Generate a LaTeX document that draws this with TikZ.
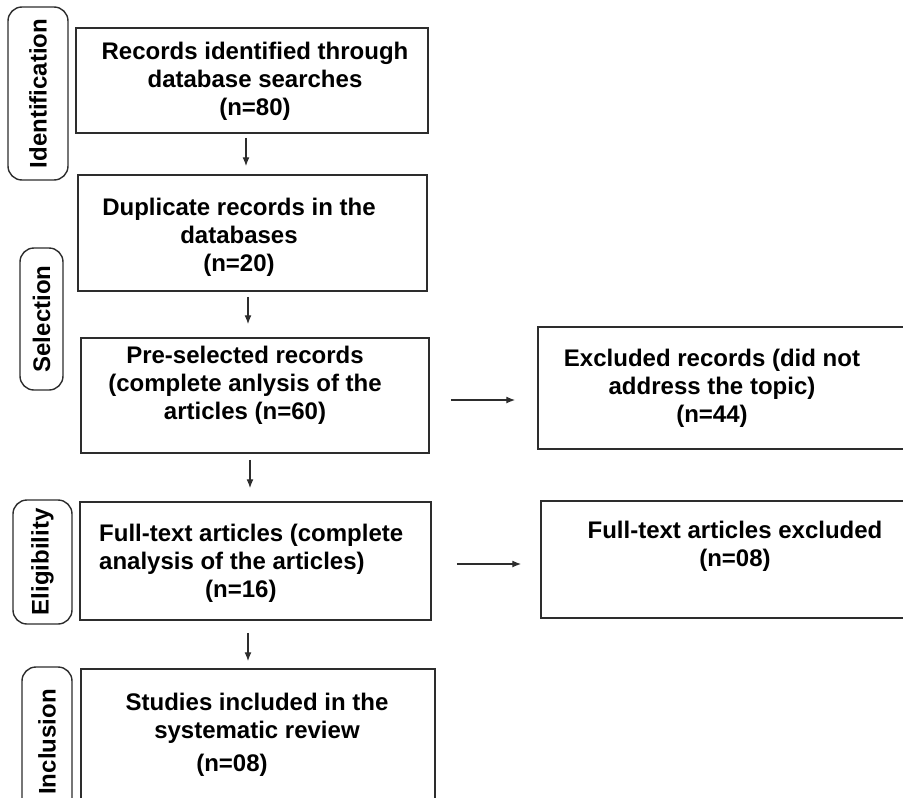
\documentclass[tikz,border=0pt]{standalone}
\usepackage{fontspec}
\setmainfont{Liberation Sans}
\usetikzlibrary{arrows.meta}
\definecolor{flowline}{RGB}{45,45,45}

\tikzset{
  flowbox/.style={draw=flowline,line width=1.5pt,inner sep=0pt},
  flowtext/.style={align=center,inner sep=0pt,font=\bfseries\fontsize{24}{28}\selectfont},
  sidelabel/.style={draw=flowline,line width=1.4pt,rounded corners=14pt,rotate=90,inner sep=0pt,font=\bfseries\fontsize{24}{28}\selectfont},
  flowarrow/.style={draw=flowline,line width=1.3pt,-{Latex[length=9pt,width=7pt]}}
}

\begin{document}
\begin{tikzpicture}[x=1pt,y=-1pt]
  \useasboundingbox (0,0) rectangle (903,798);
  \clip (0,0) rectangle (903,798);
  \fill[white] (0,0) rectangle (903,798);
  % phase labels
  \node[sidelabel,minimum width=173pt,minimum height=60pt] (lid) at (38,93.5) {Identification};
  \node[sidelabel,minimum width=142pt,minimum height=43pt] (lsel) at (41.5,319) {Selection};
  \node[sidelabel,minimum width=124pt,minimum height=59pt] (lelig) at (42.5,562) {Eligibility};
  \node[sidelabel,minimum width=150pt,minimum height=50pt] (lincl) at (47,742) {Inclusion};
  % main column
  \node[flowbox,minimum width=352pt,minimum height=105pt] (b1) at (252,80.5) {};
  \node[flowtext] (t1) at (255,81) {Records identified through\\database searches\\(n=80)};
  \node[flowbox,minimum width=349pt,minimum height=116pt] (b2) at (252.5,233) {};
  \node[flowtext] (t2) at (239,237) {Duplicate records in the\\databases\\(n=20)};
  \node[flowbox,minimum width=348pt,minimum height=115pt] (b3) at (255,395.5) {};
  \node[flowtext] (t3) at (245,385) {Pre-selected records\\(complete anlysis of the\\articles (n=60)};
  \node[flowbox,minimum width=351pt,minimum height=118pt] (b4) at (255.5,561) {};
  \node[flowtext,align=left,anchor=west] (t4) at (99,563) {Full-text articles (complete\\analysis of the articles)\\\hspace*{106pt}(n=16)};
  \node[flowbox,minimum width=354pt,minimum height=161pt] (b5) at (258,749.5) {};
  \node[flowtext] (t5) at (257,735) {Studies included in the\\systematic review\\[5pt]\hspace*{-50pt}(n=08)};
  % excluded column
  \node[flowbox,minimum width=367pt,minimum height=122pt] (x3) at (721.5,388) {};
  \node[flowtext] (tx3) at (712,388) {Excluded records (did not\\address the topic)\\(n=44)};
  \node[flowbox,minimum width=364pt,minimum height=117pt] (x4) at (723,559.5) {};
  \node[flowtext] (tx4) at (735,546) {Full-text articles excluded\\(n=08)};
  % arrows
  \draw[flowarrow,shorten <=4pt,shorten >=8pt] ([xshift=-6pt]b1.south) -- ([xshift=-6pt]b1.south |- b2.north);
  \draw[flowarrow,shorten <=5pt,shorten >=13pt] ([xshift=-4.5pt]b2.south) -- ([xshift=-4.5pt]b2.south |- b3.north);
  \draw[flowarrow,shorten <=6pt,shorten >=13pt] ([xshift=-5pt]b3.south) -- ([xshift=-5pt]b3.south |- b4.north);
  \draw[flowarrow,shorten <=12pt,shorten >=7pt] ([xshift=-7.5pt]b4.south) -- ([xshift=-7.5pt]b4.south |- b5.north);
  \draw[flowarrow,shorten <=21pt,shorten >=22pt] ([yshift=-4.5pt]b3.east) -- ([yshift=-4.5pt]b3.east -| x3.west);
  \draw[flowarrow,shorten <=25pt,shorten >=19pt] ([yshift=-3pt]b4.east) -- ([yshift=-3pt]b4.east -| x4.west);
\end{tikzpicture}
\end{document}
